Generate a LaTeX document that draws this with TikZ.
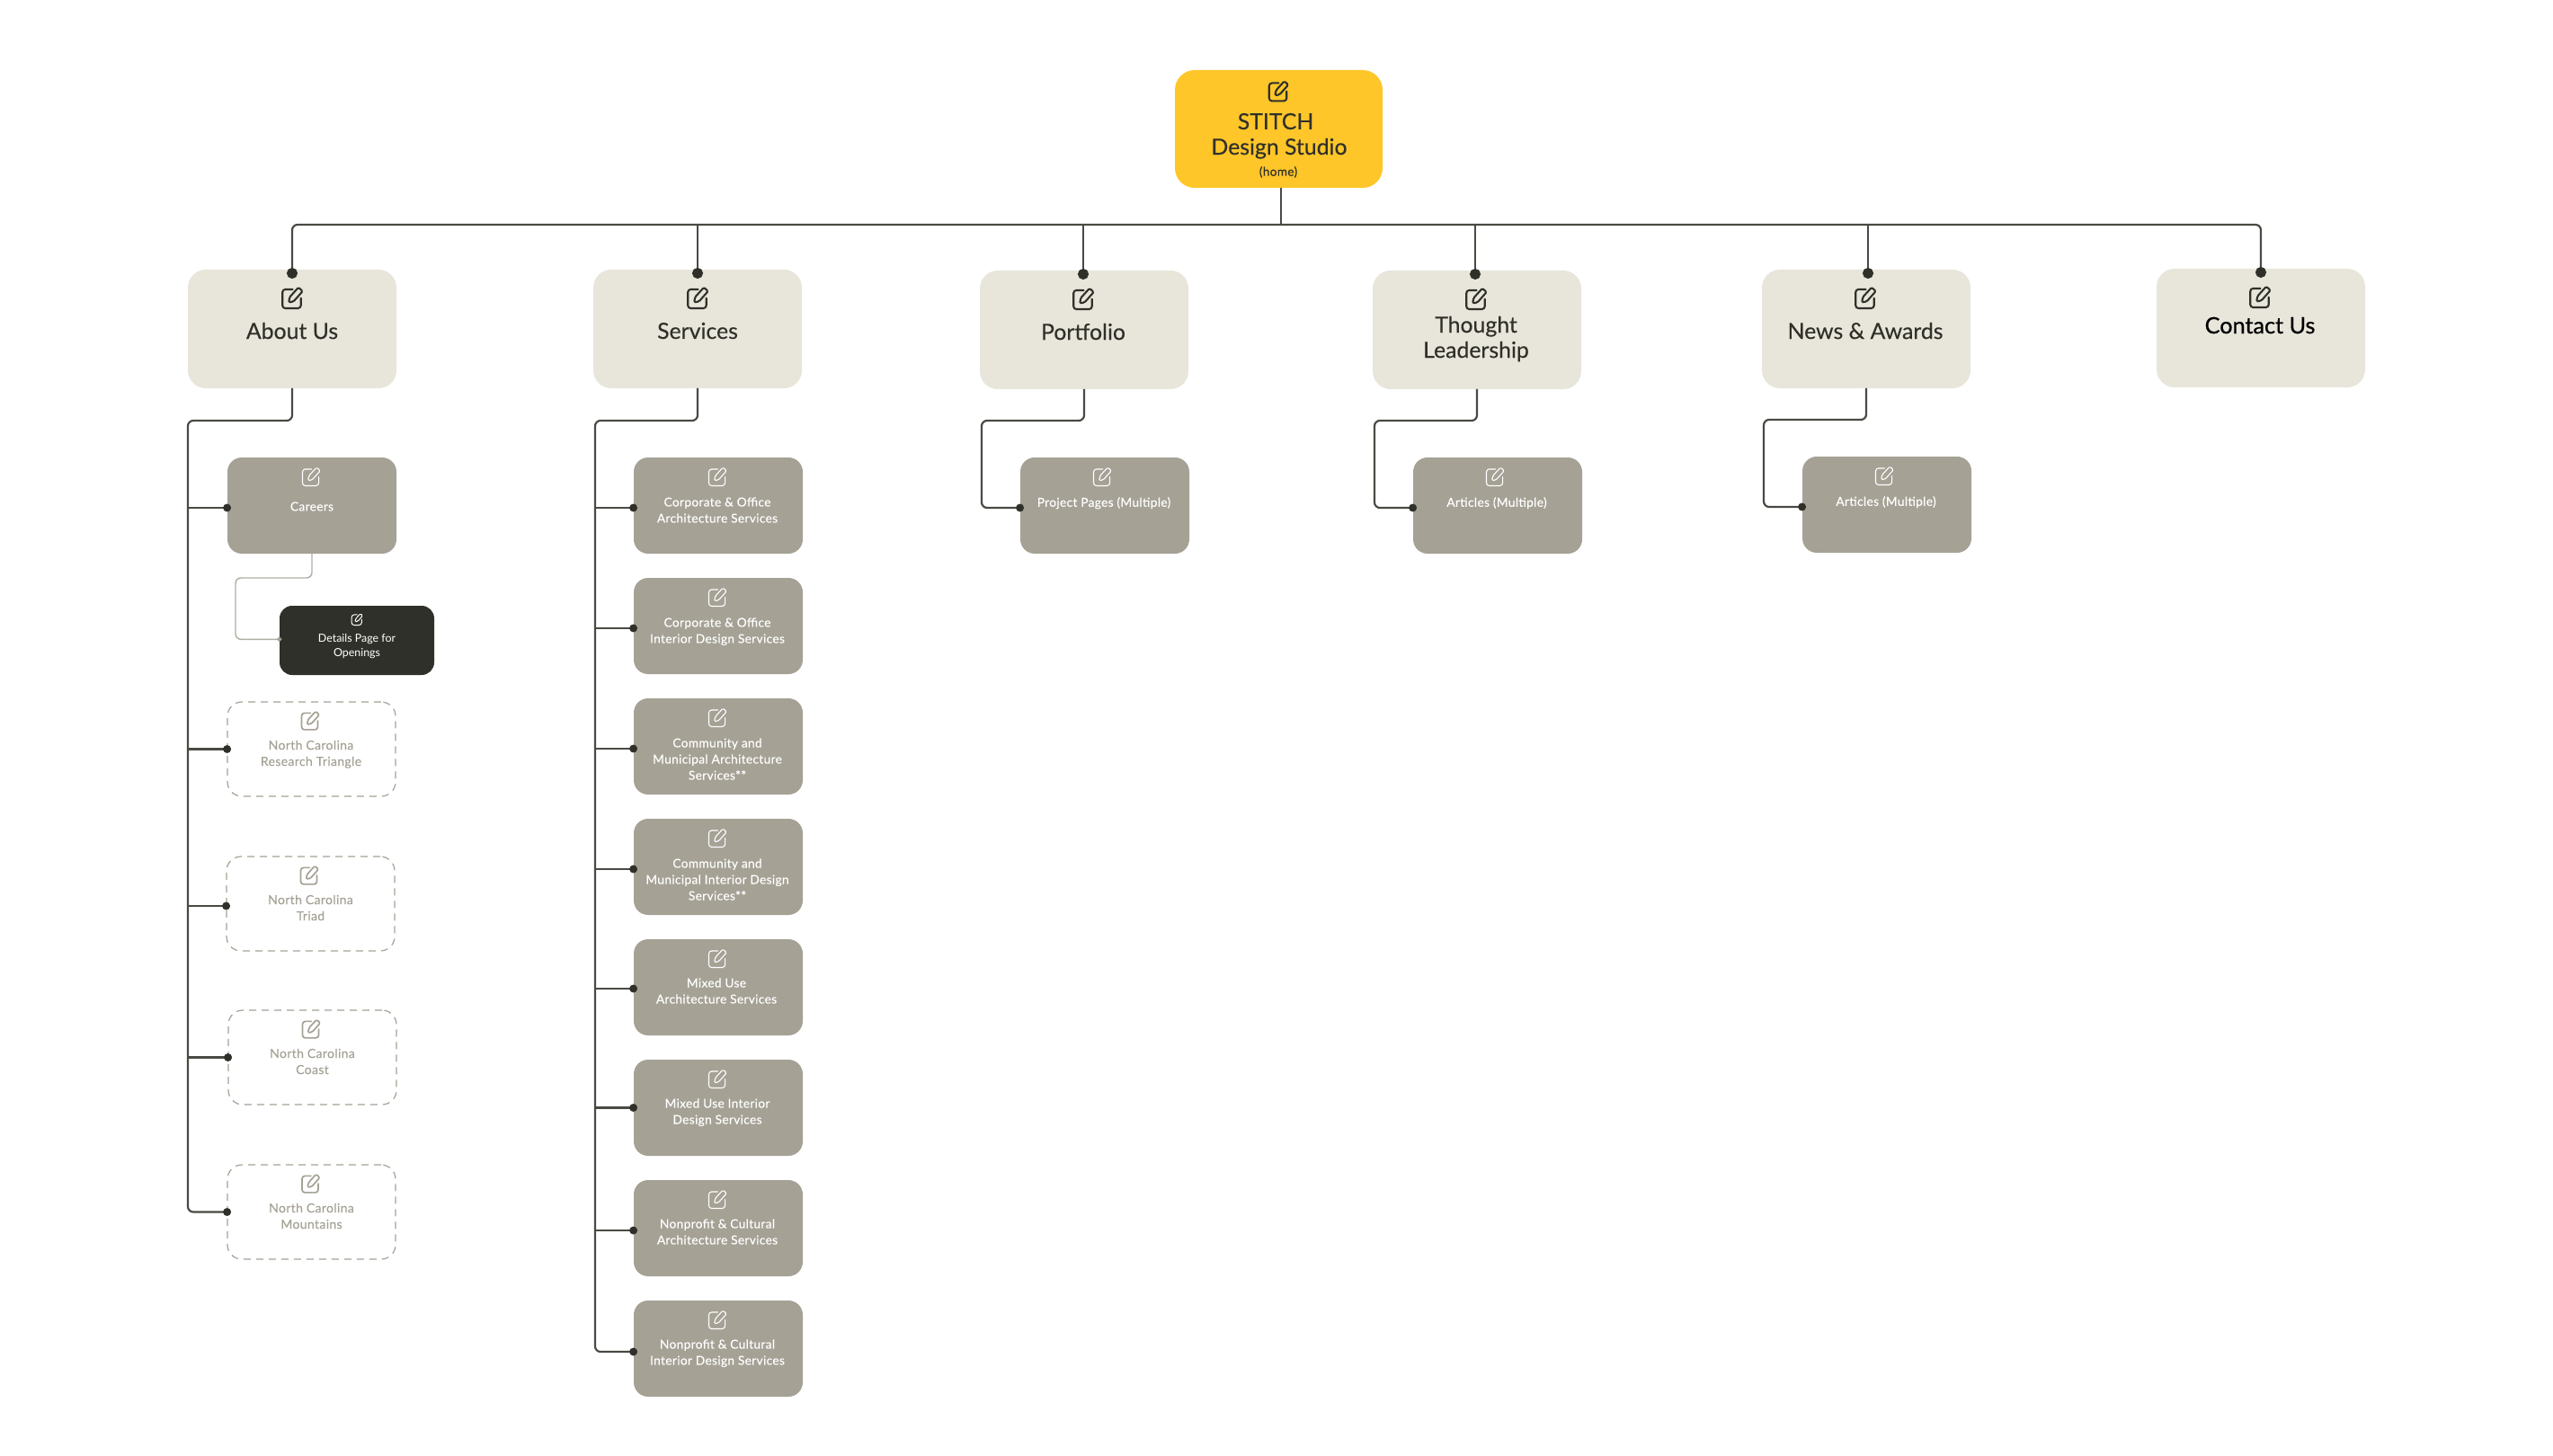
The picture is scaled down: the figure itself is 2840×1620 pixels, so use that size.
\documentclass[tikz,border=0pt]{standalone}
\usepackage{fontspec}
\setmainfont{Lato}
\newfontfamily\medf{Lato}[FakeBold=0.25]
\newfontfamily\boldf{Lato}[FakeBold=0.7]
\newfontfamily\subf{Lato}[FakeBold=0.12,LetterSpace=2.5]
\usetikzlibrary{fit,arrows.meta}
\definecolor{cyellow}{HTML}{FFC629}
\definecolor{cbeige}{HTML}{E8E5DA}
\definecolor{cgray}{HTML}{A5A195}
\definecolor{cdark}{HTML}{30302A}
\definecolor{cwire}{HTML}{4A4A44}
\definecolor{clight}{HTML}{B0ADA3}
\tikzset{
  x=0.5pt,y=-0.5pt,
  cardbase/.style={inner sep=0pt,outer sep=0pt,line width=0pt},
  rootcard/.style={cardbase,fill=cyellow,rounded corners=11pt},
  headcard/.style={cardbase,fill=cbeige,rounded corners=10pt},
  subcard/.style={cardbase,fill=cgray,rounded corners=8pt},
  darkcard/.style={cardbase,fill=cdark,rounded corners=7pt},
  dashcard/.style={cardbase,draw=cgray,line width=0.6pt,dash pattern=on 4pt off 3pt,rounded corners=8pt},
  txt/.style={inner sep=0pt,outer sep=0pt,align=center,yshift=-0.6pt,
    execute at begin node={\vphantom{Hg}},execute at end node={\vphantom{Hg}}},
  subshift/.style={yshift=0.25pt},
  headtxt/.style={txt,text=cdark,font=\medf\fontsize{12.4}{14}\selectfont},
  contacttxt/.style={txt,text=black,font=\boldf\fontsize{12.6}{14}\selectfont},
  subtxt/.style={txt,subshift,text=white,font=\subf\fontsize{6.85}{9}\selectfont},
  dashtxt/.style={txt,text=cgray,font=\subf\fontsize{7}{9}\selectfont},
  smalltxt/.style={txt,text=white,font=\fontsize{6.2}{8}\selectfont},
  homexxt/.style={txt,subshift,text=cdark,font=\subf\fontsize{6.8}{9}\selectfont},
  wire/.style={draw=cwire,line width=1.1pt,rounded corners=3pt},
  pale/.style={draw=clight,line width=0.7pt,rounded corners=3pt},
  bigdot/.style={-{Circle[length=6pt,color=cdark]}},
  smalldot/.style={-{Circle[length=4.4pt,color=cdark]}},
  tinydot/.style={-{Circle[length=2.6pt,color=cgray]}},
  iconhead/.style={color=cdark,line width=1.05pt,scale=1.08,yshift=.4pt},
  iconsub/.style={color=white,line width=0.55pt,scale=.95,yshift=.5pt},
  icondash/.style={color=cgray,line width=0.85pt,scale=.95,yshift=.3pt},
  iconsmall/.style={color=white,line width=0.5pt,scale=.6},
  editicon/.pic={
    \draw[line cap=round,line join=round,rounded corners=1.6pt]
      (0.5,-8.5) -- (-10,-8.5) -- (-10,11) -- (9,11) -- (9,0.5);
    \draw[line cap=round,line join=round,rounded corners=0.7pt]
      (-3.5,5) -- (-2.6,-0.5) -- (6.5,-10.5) -- (10.8,-6.6) -- (1.5,3.9) -- cycle;
  }
}
\begin{document}
\begin{tikzpicture}
\useasboundingbox (0,0) rectangle (2840,1620);

% ---- root
\node[rootcard,fit={(1307,78)(1538,209)}] (root) {};
\pic[iconhead,scale=.95] at (1422,102) {editicon};
\node[headtxt] (root-a) at (1419,136) {STITCH};
\node[headtxt] (root-b) at (1423,164) {Design Studio};
\node[homexxt] (root-c) at (1422,191) {(home)};

% ---- first level
\node[headcard,fit={(209,300)(441,432)}] (about) {};
\pic[iconhead] at (325,332) {editicon};
\node[headtxt] (about-t) at (325,369) {About Us};

\node[headcard,fit={(660,300)(892,432)}] (services) {};
\pic[iconhead] at (776,332) {editicon};
\node[headtxt] (services-t) at (776,369) {Services};

\node[headcard,fit={(1090,301)(1322,433)}] (portfolio) {};
\pic[iconhead] at (1205,333) {editicon};
\node[headtxt] (portfolio-t) at (1205,370) {Portfolio};

\node[headcard,fit={(1527,301)(1759,433)}] (thought) {};
\pic[iconhead] at (1642,333) {editicon};
\node[headtxt] (thought-t) at (1642,376) {Thought\\Leadership};

\node[headcard,fit={(1960,300)(2192,432)}] (news) {};
\pic[iconhead] at (2075,332) {editicon};
\node[headtxt] (news-t) at (2075,369) {News \& Awards};

\node[headcard,fit={(2399,299)(2631,431)}] (contact) {};
\pic[iconhead] at (2514,331) {editicon};
\node[contacttxt] (contact-t) at (2514,363) {Contact Us};

% ---- about us children
\node[subcard,fit={(253,509)(441,616)}] (careers) {};
\pic[iconsub] at (346,531) {editicon};
\node[subtxt] (careers-t) at (347,564) {Careers};

\node[darkcard,fit={(311,674)(483,751)}] (details) {};
\pic[iconsmall] at (397,689) {editicon};
\node[smalltxt] (details-t) at (397,718) {Details Page for\\Openings};

\node[dashcard,fit={(253,781)(440,886)}] (ncrt) {};
\pic[icondash] at (345,802) {editicon};
\node[dashtxt] (ncrt-t) at (346,838) {North Carolina\\Research Triangle};

\node[dashcard,fit={(252,953)(439,1058)}] (nctr) {};
\pic[icondash] at (344,974) {editicon};
\node[dashtxt] (nctr-t) at (345.5,1010) {North Carolina\\Triad};

\node[dashcard,fit={(254,1124)(441,1229)}] (ncco) {};
\pic[icondash] at (346,1145) {editicon};
\node[dashtxt] (ncco-t) at (347.5,1181) {North Carolina\\Coast};

\node[dashcard,fit={(253,1296)(440,1401)}] (ncmo) {};
\pic[icondash] at (345.5,1317) {editicon};
\node[dashtxt] (ncmo-t) at (346.5,1353) {North Carolina\\Mountains};

% ---- services children
\node[subcard,fit={(705,509)(893,616)}] (s1) {};
\pic[iconsub] at (798,531) {editicon};
\node[subtxt] (s1-t) at (798,568) {Corporate \& Office\\Architecture Services};

\node[subcard,fit={(705,643)(893,750)}] (s2) {};
\pic[iconsub] at (798,665) {editicon};
\node[subtxt] (s2-t) at (798,702) {Corporate \& Office\\Interior Design Services};

\node[subcard,fit={(705,777)(893,884)}] (s3) {};
\pic[iconsub] at (798,799) {editicon};
\node[subtxt] (s3-t) at (798,845) {Community and\\Municipal Architecture\\Services**};

\node[subcard,fit={(705,911)(893,1018)}] (s4) {};
\pic[iconsub] at (798,933) {editicon};
\node[subtxt] (s4-t) at (798,979) {Community and\\Municipal Interior Design\\Services**};

\node[subcard,fit={(705,1045)(893,1152)}] (s5) {};
\pic[iconsub] at (798,1067) {editicon};
\node[subtxt] (s5-t) at (797,1103) {Mixed Use\\Architecture Services};

\node[subcard,fit={(705,1179)(893,1286)}] (s6) {};
\pic[iconsub] at (798,1201) {editicon};
\node[subtxt] (s6-t) at (798,1237) {Mixed Use Interior\\Design Services};

\node[subcard,fit={(705,1313)(893,1420)}] (s7) {};
\pic[iconsub] at (798,1335) {editicon};
\node[subtxt] (s7-t) at (798,1371) {Nonprofit \& Cultural\\Architecture Services};

\node[subcard,fit={(705,1447)(893,1554)}] (s8) {};
\pic[iconsub] at (798,1469) {editicon};
\node[subtxt] (s8-t) at (798,1505) {Nonprofit \& Cultural\\Interior Design Services};

% ---- single children
\node[subcard,fit={(1135,509)(1323,616)}] (projects) {};
\pic[iconsub] at (1226,531) {editicon};
\node[subtxt] (projects-t) at (1228,559) {Project Pages (Multiple)};

\node[subcard,fit={(1572,509)(1760,616)}] (articlesa) {};
\pic[iconsub] at (1663,531) {editicon};
\node[subtxt] (articlesa-t) at (1665,559) {Articles (Multiple)};

\node[subcard,fit={(2005,508)(2193,615)}] (articlesb) {};
\pic[iconsub] at (2096,530) {editicon};
\node[subtxt] (articlesb-t) at (2098,558) {Articles (Multiple)};

% ---- top bus
\coordinate (bus) at (1425,250);
\foreach \n/\dx in {about/0,services/0,portfolio/-0.5,thought/-1,news/1,contact/0}
  \coordinate (\n-top) at ([xshift=\dx pt,yshift=-5pt]\n.north);
\draw[wire] (root.south -| bus) -- (bus);
\draw[wire,{Circle[length=6pt,color=cdark]}-{Circle[length=6pt,color=cdark]}]
  (about-top) |- (bus) -| (contact-top);
\foreach \n in {services,portfolio,thought,news}
  \draw[wire,bigdot] (bus -| \n-top) -- (\n-top);

% ---- about rail
\coordinate (railabout) at (209,468);
\draw[wire,smalldot] (about.south) |- (railabout) |- ([xshift=2pt]ncmo.west);
\foreach \n/\dy in {careers/-1.25,ncrt/0,nctr/-1.25,ncco/0}
  \draw[wire,smalldot] ([yshift=\dy pt]railabout |- \n.west) -- ([xshift=2pt,yshift=\dy pt]\n.west);

% ---- careers to details
\coordinate (railcareers) at (262,643);
\draw[pale,tinydot] (careers.south) |- (railcareers) |- ([xshift=1.2pt,yshift=0.6pt]details.west);

% ---- services rail
\coordinate (railservices) at (662,468);
\draw[wire,smalldot] (services.south) |- (railservices) |- ([xshift=2pt,yshift=-1.75pt]s8.west);
\foreach \n/\dy in {s1/-1.25,s2/-1.25,s3/-1.25,s4/-1.25,s5/-0.75,s6/0,s7/-1.25}
  \draw[wire,smalldot] ([yshift=\dy pt]railservices |- \n.west) -- ([xshift=2pt,yshift=\dy pt]\n.west);

% ---- single-child elbows
\coordinate (railportfolio) at (1092,468);
\draw[wire,smalldot] (portfolio.south) |- (railportfolio) |- ([xshift=2pt,yshift=-1.25pt]projects.west);
\coordinate (railthought) at (1529,468);
\draw[wire,smalldot] (thought.south) |- (railthought) |- ([xshift=2pt,yshift=-1.25pt]articlesa.west);
\coordinate (railnews) at (1962,467);
\draw[wire,smalldot] (news.south) |- (railnews) |- ([xshift=2pt,yshift=-1.25pt]articlesb.west);
\end{tikzpicture}
\end{document}
